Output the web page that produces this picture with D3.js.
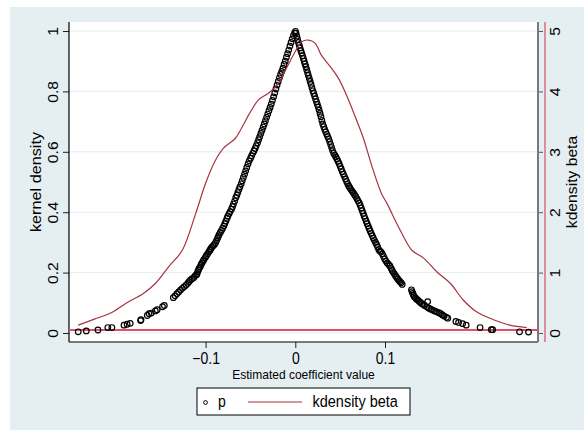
<!DOCTYPE html>
<html>
<head>
<meta charset="utf-8">
<script src="https://cdn.jsdelivr.net/npm/d3@7"></script>
<style>
  body { margin: 0; background: white; }
  text { font-family: 'Liberation Sans', Arial, sans-serif; }
</style>
</head>
<body>
<div id="chart"></div>
<script>
// kdensity of beta (right axis)
var kdX = [-0.242, -0.224, -0.206, -0.189, -0.169, -0.156, -0.141, -0.126, -0.111, -0.100,
  -0.089, -0.080, -0.067, -0.060, -0.050, -0.041, -0.030, -0.019, -0.010, 0.000,
  0.007, 0.0145, 0.022, 0.029, 0.039, 0.048, 0.057, 0.066, 0.076, 0.085,
  0.096, 0.102, 0.117, 0.130, 0.143, 0.158, 0.173, 0.187, 0.202, 0.221, 0.239, 0.258];
var kdY = [0.13, 0.23, 0.33, 0.49, 0.66, 0.82, 1.10, 1.37, 1.98, 2.48,
  2.86, 3.06, 3.22, 3.39, 3.66, 3.86, 3.97, 4.13, 4.38, 4.66,
  4.82, 4.85, 4.80, 4.60, 4.41, 4.22, 3.94, 3.61, 3.22, 2.78,
  2.31, 2.15, 1.70, 1.37, 1.24, 1.01, 0.82, 0.55, 0.35, 0.22, 0.13, 0.09];

// p points (left axis)
var pLeft = [
  [-0.2420,0.004],[-0.2330,0.007],[-0.2200,0.010],[-0.2090,0.018],[-0.2045,0.018],
  [-0.1910,0.026],[-0.1875,0.029],[-0.1840,0.032],[-0.1725,0.041],[-0.1720,0.044],
  [-0.1650,0.058],[-0.1630,0.064],[-0.1605,0.066],[-0.1560,0.073],[-0.1540,0.077],
  [-0.1480,0.087],[-0.1460,0.091],[-0.1360,0.117],[-0.1340,0.123],[-0.1320,0.130],
  [-0.1300,0.136],[-0.1280,0.142],[-0.1260,0.148],[-0.1240,0.153],[-0.1220,0.158],
  [-0.1200,0.164],[-0.1185,0.170],[-0.1170,0.175],[-0.1150,0.180],[-0.1130,0.184],
  [-0.1115,0.190],[-0.1100,0.193],
  [-0.1095,0.196],[-0.1088,0.203],[-0.1079,0.209],[-0.1072,0.214],[-0.1060,0.219],
  [-0.1051,0.226],[-0.1040,0.232],[-0.1027,0.238],[-0.1019,0.243],[-0.1003,0.250],
  [-0.0992,0.256],[-0.0978,0.262],[-0.0963,0.269],[-0.0951,0.274],[-0.0942,0.279],
  [-0.0930,0.284],[-0.0915,0.289],[-0.0902,0.293],[-0.0889,0.299],[-0.0878,0.306],
  [-0.0866,0.314],[-0.0857,0.320],[-0.0849,0.326],[-0.0836,0.333],[-0.0822,0.340],
  [-0.0810,0.347],[-0.0797,0.354],[-0.0786,0.362],[-0.0773,0.371],[-0.0761,0.380],
  [-0.0752,0.387],[-0.0738,0.395],[-0.0726,0.402],[-0.0712,0.410],[-0.0700,0.418],
  [-0.0689,0.427],[-0.0676,0.437],[-0.0664,0.448],[-0.0652,0.456],[-0.0641,0.465],
  [-0.0629,0.475],[-0.0617,0.484],[-0.0603,0.494],[-0.0592,0.504],[-0.0579,0.515],
  [-0.0566,0.526],[-0.0553,0.537],[-0.0541,0.548],[-0.0527,0.560],[-0.0514,0.570],
  [-0.0499,0.579],[-0.0487,0.587],[-0.0473,0.595],[-0.0461,0.603],[-0.0448,0.611],
  [-0.0436,0.620],[-0.0421,0.630],[-0.0409,0.640],[-0.0397,0.650],[-0.0384,0.661],
  [-0.0371,0.671],[-0.0358,0.682],[-0.0346,0.692],[-0.0333,0.703],[-0.0320,0.714],
  [-0.0307,0.725],[-0.0294,0.736],[-0.0281,0.747],[-0.0268,0.758],[-0.0255,0.770],
  [-0.0242,0.782],[-0.0229,0.795],[-0.0216,0.808],[-0.0203,0.821],[-0.0190,0.833],
  [-0.0177,0.845],[-0.0164,0.856],[-0.0151,0.866],[-0.0138,0.877],[-0.0125,0.889],
  [-0.0112,0.900],[-0.0099,0.913],[-0.0086,0.925],[-0.0073,0.937],[-0.0060,0.950],
  [-0.0047,0.962],[-0.0034,0.974],[-0.0021,0.985],[-0.0008,0.994],[0.0002,0.999]
];
var pRight = [
  [0.0008,0.993],[0.0017,0.983],[0.0026,0.972],[0.0035,0.962],[0.0044,0.953],
  [0.0053,0.944],[0.0062,0.935],[0.0071,0.927],[0.0080,0.918],[0.0090,0.909],
  [0.0099,0.900],[0.0108,0.891],[0.0118,0.882],[0.0127,0.872],[0.0137,0.862],
  [0.0146,0.853],[0.0156,0.843],[0.0166,0.833],[0.0176,0.823],[0.0186,0.812],
  [0.0196,0.802],[0.0206,0.793],[0.0216,0.784],[0.0226,0.775],[0.0236,0.766],
  [0.0246,0.757],[0.0256,0.748],[0.0266,0.738],[0.0276,0.727],[0.0286,0.716],
  [0.0296,0.704],[0.0306,0.692],[0.0317,0.683],[0.0328,0.674],[0.0339,0.666],
  [0.0350,0.658],[0.0361,0.651],[0.0372,0.643],[0.0383,0.634],[0.0394,0.624],
  [0.0405,0.614],[0.0416,0.604],[0.0428,0.595],[0.0440,0.589],[0.0452,0.583],
  [0.0464,0.576],[0.0476,0.569],[0.0488,0.561],[0.0500,0.552],[0.0512,0.543],
  [0.0524,0.534],[0.0536,0.526],[0.0548,0.518],[0.0560,0.510],[0.0572,0.502],
  [0.0584,0.494],[0.0596,0.487],[0.0608,0.481],[0.0621,0.475],[0.0634,0.469],
  [0.0647,0.464],[0.0660,0.458],[0.0673,0.452],[0.0686,0.445],[0.0699,0.438],
  [0.0712,0.431],[0.0724,0.423],[0.0735,0.414],[0.0746,0.405],[0.0757,0.396],
  [0.0768,0.387],[0.0779,0.379],[0.0790,0.370],[0.0801,0.362],[0.0812,0.354],
  [0.0823,0.346],[0.0834,0.338],[0.0846,0.330],[0.0858,0.322],[0.0870,0.314],
  [0.0882,0.307],[0.0894,0.300],[0.0906,0.293],[0.0918,0.285],[0.0931,0.276],
  [0.0944,0.271],[0.0957,0.268],[0.0970,0.262],[0.0983,0.254],[0.0996,0.245],
  [0.1010,0.238],[0.1025,0.232],[0.1040,0.227],[0.1055,0.222],[0.1068,0.214],
  [0.1080,0.207],[0.1092,0.201],[0.1105,0.195],[0.1118,0.189],[0.1130,0.184],
  [0.1142,0.179],[0.1155,0.174],[0.1168,0.170],[0.1180,0.166],[0.1192,0.161],
  [0.1295,0.143],[0.1302,0.137],[0.1310,0.131],[0.1318,0.125],[0.1326,0.120],
  [0.1340,0.116],[0.1352,0.112],[0.1366,0.109],[0.1380,0.105],[0.1395,0.101],
  [0.1410,0.097],[0.1428,0.094],[0.1440,0.091],[0.1476,0.104],[0.1468,0.086],
  [0.1490,0.082],[0.1510,0.079],[0.1530,0.076],[0.1552,0.073],[0.1575,0.070],
  [0.1600,0.067],[0.1620,0.064],[0.1640,0.060],[0.1660,0.056],[0.1685,0.052],
  [0.1700,0.049],[0.1790,0.038],[0.1820,0.035],[0.1865,0.031],[0.1905,0.026],
  [0.2060,0.018],[0.2185,0.011],[0.2200,0.011],[0.2500,0.004],[0.2600,0.003]
];

var yLeftTicks = [0, 0.2, 0.4, 0.6, 0.8, 1];
var yRightTicks = [0, 1, 2, 3, 4, 5];
var xTicks = [-0.1, 0, 0.1];
var refLine = 0.01;

var width = 584, height = 430;
var plotL = 69, plotR = 538, plotT = 22, plotB = 342;
var stretch = 'scale(1,1.12)';

var svg = d3.select('#chart').append('svg')
    .attr('width', width)
    .attr('height', height);

svg.append('rect')
    .attr('x', 10).attr('y', 7)
    .attr('width', width - 10).attr('height', height - 7)
    .attr('fill', '#E5EEF0');

svg.append('rect')
    .attr('x', plotL).attr('y', plotT)
    .attr('width', plotR - plotL).attr('height', plotB - plotT)
    .attr('fill', 'white');

var xScale = d3.scaleLinear().domain([-0.1, 0.1]).range([205.6, 385]);
var yLeft = d3.scaleLinear().domain([0, 1]).range([333, 31]);
var yRight = d3.scaleLinear().domain([0, 5]).range([333, 31]);

// grid
svg.append('g').selectAll('line')
    .data(yLeftTicks)
    .enter().append('line')
    .attr('x1', plotL).attr('x2', plotR)
    .attr('y1', d => yLeft(d)).attr('y2', d => yLeft(d))
    .attr('stroke', '#E3EDEE').attr('stroke-width', 1);

// left axis
var leftAxis = svg.append('g')
    .attr('transform', `translate(${plotL},0)`)
    .call(d3.axisLeft(yLeft).tickValues(yLeftTicks).tickSize(6).tickFormat(d3.format('')));
leftAxis.select('.domain').remove();
leftAxis.selectAll('line').attr('stroke', '#222');
leftAxis.selectAll('text')
    .attr('transform', stretch + ' rotate(-90)')
    .attr('x', 0).attr('y', -11).attr('dy', 0)
    .attr('text-anchor', 'middle')
    .style('font-size', '14px').attr('fill', '#000');

// right axis
var rightAxis = svg.append('g')
    .attr('transform', `translate(${plotR},0)`)
    .call(d3.axisRight(yRight).tickValues(yRightTicks).tickSize(5).tickFormat(d3.format('')));
rightAxis.select('.domain').remove();
rightAxis.selectAll('line').attr('stroke', '#555');
rightAxis.selectAll('text')
    .attr('transform', stretch + ' rotate(-90)')
    .attr('x', 0).attr('y', 22).attr('dy', 0)
    .attr('text-anchor', 'middle')
    .style('font-size', '14px').attr('fill', '#000');

// x axis
var bottomAxis = svg.append('g')
    .attr('transform', `translate(0,${plotB})`)
    .call(d3.axisBottom(xScale).tickValues(xTicks).tickSize(6)
        .tickFormat(d => d === 0 ? '0' : (d < 0 ? '\u22120.1' : '0.1')));
bottomAxis.select('.domain').remove();
bottomAxis.selectAll('line').attr('stroke', '#222');
bottomAxis.selectAll('text')
    .attr('transform', 'translate(0,22) ' + stretch)
    .attr('y', 0).attr('dy', 0)
    .style('font-size', '14px').attr('fill', '#000');

// axis lines
svg.append('line')
    .attr('x1', plotL).attr('x2', plotL).attr('y1', plotT).attr('y2', plotB)
    .attr('stroke', '#000').attr('stroke-width', 1.2);
svg.append('line')
    .attr('x1', plotL).attr('x2', plotR).attr('y1', plotB).attr('y2', plotB)
    .attr('stroke', '#000').attr('stroke-width', 1.2);
svg.append('line')
    .attr('x1', plotR).attr('x2', plotR).attr('y1', plotT).attr('y2', plotB)
    .attr('stroke', '#7A7A7A').attr('stroke-width', 2);
svg.append('line')
    .attr('x1', plotR + 7).attr('x2', plotR + 7).attr('y1', plotT).attr('y2', plotB)
    .attr('stroke', '#D42E4A').attr('stroke-width', 1);

// reference line
svg.append('line')
    .attr('x1', plotL).attr('x2', plotR)
    .attr('y1', yLeft(refLine)).attr('y2', yLeft(refLine))
    .attr('stroke', '#E0506A').attr('stroke-width', 2);

// p markers
var pts = pLeft.concat(pRight);
svg.append('g').selectAll('circle')
    .data(pts)
    .enter().append('circle')
    .attr('cx', d => xScale(d[0]))
    .attr('cy', d => yLeft(d[1]))
    .attr('r', 2.8)
    .attr('fill', 'none')
    .attr('stroke', '#000')
    .attr('stroke-width', 1.2);

// kdensity curve
var kd = kdX.map((x, i) => [x, kdY[i]]);
svg.append('path')
    .datum(kd)
    .attr('d', d3.line().x(d => xScale(d[0])).y(d => yRight(d[1])).curve(d3.curveCatmullRom))
    .attr('fill', 'none')
    .attr('stroke', '#A8323F')
    .attr('stroke-width', 1.2);

// axis titles
svg.append('text')
    .attr('transform', `translate(41,${(plotT + plotB) / 2}) ${stretch} rotate(-90)`)
    .attr('text-anchor', 'middle')
    .style('font-size', '14.5px')
    .text('kernel density');
svg.append('text')
    .attr('transform', `translate(577,${(plotT + plotB) / 2}) ${stretch} rotate(-90)`)
    .attr('text-anchor', 'middle')
    .style('font-size', '14px')
    .text('kdensity beta');
svg.append('text')
    .attr('transform', `translate(${(plotL + plotR) / 2},379) ${stretch}`)
    .attr('text-anchor', 'middle')
    .style('font-size', '12px')
    .text('Estimated coefficient value');

// legend
var legend = svg.append('g');
legend.append('rect')
    .attr('x', 197).attr('y', 388).attr('width', 213).attr('height', 27)
    .attr('fill', 'white').attr('stroke', '#000').attr('stroke-width', 1);
legend.append('circle')
    .attr('cx', 205.5).attr('cy', 402.5).attr('r', 1.9)
    .attr('fill', 'none').attr('stroke', '#000').attr('stroke-width', 1);
legend.append('text')
    .attr('transform', 'translate(218,407) ' + stretch)
    .style('font-size', '14px')
    .text('p');
legend.append('line')
    .attr('x1', 248).attr('x2', 302).attr('y1', 402).attr('y2', 402)
    .attr('stroke', '#A8323F').attr('stroke-width', 1.2);
legend.append('text')
    .attr('transform', 'translate(312.5,407) ' + stretch)
    .style('font-size', '14.5px')
    .text('kdensity beta');
</script>
</body>
</html>
